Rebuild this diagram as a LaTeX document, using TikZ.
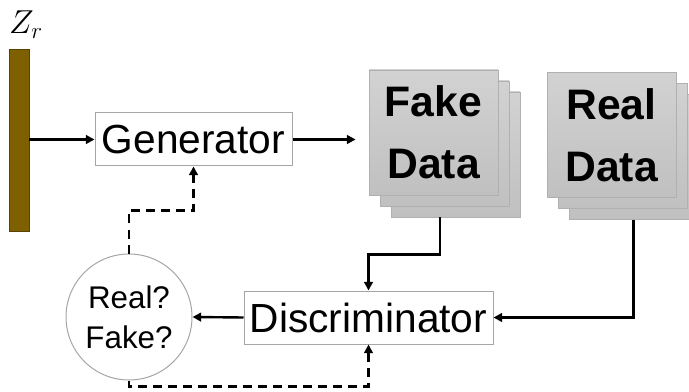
\documentclass[tikz,border=0pt]{standalone}
\usepackage{fontspec}
\setmainfont{Liberation Sans}
\usetikzlibrary{arrows.meta,calc}
\definecolor{boxgray}{HTML}{A6A6A6}
\definecolor{sheetedge}{HTML}{B0B0B0}
\definecolor{sheettop}{HTML}{D2D2D2}
\definecolor{sheetbot}{HTML}{C0C0C0}
\definecolor{barbrown}{HTML}{7F6000}
\tikzset{
  plainbox/.style={draw=boxgray, line width=0.75pt, fill=white, inner sep=0pt,
    minimum height=39.75pt, font=\fontsize{30.5}{36}\selectfont},
  sheet/.style={draw=sheetedge, line width=0.6pt, top color=sheettop, bottom color=sheetbot,
    minimum width=96.75pt, minimum height=93.75pt, inner sep=0pt, align=center,
    font=\bfseries\fontsize{32}{46.5}\selectfont},
  arr/.style={line width=1.8pt, -{Triangle[length=6.5pt,width=6.5pt]}},
  darr/.style={arr, dash pattern=on 6.75pt off 4.5pt},
  zlabel/.style={font=\fontsize{27}{30}\selectfont},
}
\begin{document}
\begin{tikzpicture}[x=0.75pt,y=-0.75pt]
\useasboundingbox (0,0) rectangle (689,392);
\clip (0,0) rectangle (689,392);
% latent bar
\node[draw=barbrown!70!black, line width=0.5pt, fill=barbrown, minimum width=15pt, minimum height=136.5pt, inner sep=0pt] (bar) at (19,140) {};
\node[zlabel] (zr) at (26,25) {$Z_r$};
% generator
\node[plainbox, minimum width=147.75pt] (gen) at (193.5,139.5) {Generator};
% fake data stack
\node[sheet] (fake3) at (455.5,154.5) {};
\node[sheet] (fake2) at (444.5,143.5) {};
\node[sheet] (fake1) at (433.5,132.5) {Fake\\Data};
% real data stack
\node[sheet] (real3) at (633.5,157) {};
\node[sheet] (real2) at (622.5,146) {};
\node[sheet] (real1) at (611.5,135) {Real\\Data};
% discriminator
\node[plainbox, minimum width=186.75pt] (disc) at (368.5,317.5) {Discriminator};
% decision circle
\node[circle, draw=boxgray, line width=0.75pt, fill=white, minimum size=94.5pt, inner sep=0pt,
  align=center, font=\fontsize{23.5}{30}\selectfont] (circ) at (129,317) {Real?\\Fake?};
% connectors
\draw[arr] (bar.east |- gen.west) -- (gen.west);
\draw[arr, shorten >=9.75pt] (gen.east) -- (fake1.west |- gen.east);
\draw[arr] ([xshift=-11.6pt]fake3.south) -- ++(0,37) -| (disc.north);
\draw[arr] (real3.south) |- (disc.east);
\draw[arr] (disc.west) -- (circ.east);
\draw[darr] (circ.south) -- ++(0,6) -| (disc.south);
\draw[darr] (circ.north) -- ++(0,-43) -| (gen.south);
\end{tikzpicture}
\end{document}
